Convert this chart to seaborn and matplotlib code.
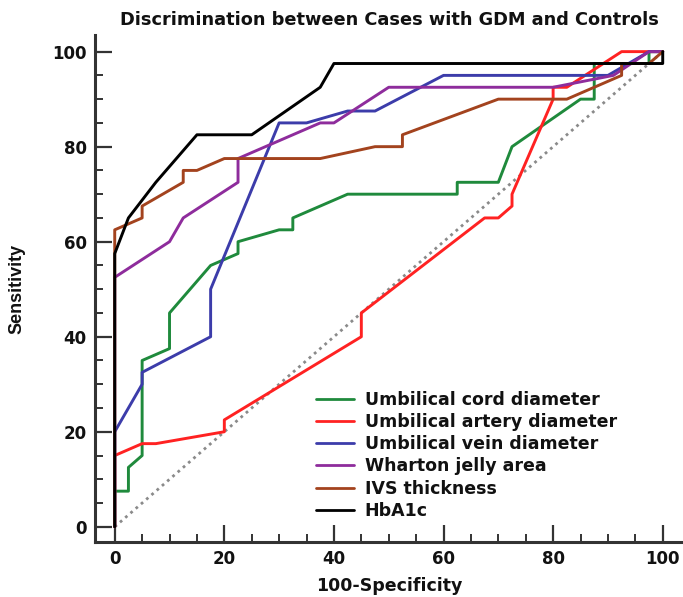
import numpy as np
import pandas as pd
import matplotlib
matplotlib.use("Agg")
import matplotlib.pyplot as plt
import seaborn as sns
from matplotlib.ticker import MultipleLocator
from matplotlib.lines import Line2D

# ---- data ----
cord_x = [0, 0, 2.5, 2.5, 5, 5, 10, 10, 17.5, 22.5, 22.5, 30, 32.5, 32.5, 42.5, 62.5, 62.5, 70, 72.5, 85, 87.5, 87.5, 97.5, 97.5, 100]
cord_y = [0, 7.5, 7.5, 12.5, 15, 35, 37.5, 45, 55, 57.5, 60, 62.5, 62.5, 65, 70, 70, 72.5, 72.5, 80, 90, 90, 97.5, 97.5, 100, 100]

artery_x = [0, 0, 5, 7.5, 20, 20, 45, 45, 67.5, 70, 72.5, 72.5, 80, 80, 82.5, 92.5, 100]
artery_y = [0, 15, 17.5, 17.5, 20, 22.5, 40, 45, 65, 65, 67.5, 70, 90, 92.5, 92.5, 100, 100]

vein_x = [0, 0, 5, 5, 17.5, 17.5, 30, 35, 42.5, 47.5, 60, 90, 97.5, 100]
vein_y = [0, 20, 30, 32.5, 40, 50, 85, 85, 87.5, 87.5, 95, 95, 100, 100]

wharton_x = [0, 0, 10, 12.5, 22.5, 22.5, 37.5, 40, 50, 80, 91, 97.5, 100]
wharton_y = [0, 52.5, 60, 65, 72.5, 77.5, 85, 85, 92.5, 92.5, 95, 100, 100]

ivs_x = [0, 0, 5, 5, 12.5, 12.5, 15, 20, 37.5, 47.5, 52.5, 52.5, 70, 82.5, 92.5, 92.5, 97.5, 100]
ivs_y = [0, 62.5, 65, 67.5, 72.5, 75, 75, 77.5, 77.5, 80, 80, 82.5, 90, 90, 95, 97.5, 97.5, 100]

hba1c_x = [0, 0, 2.5, 7.5, 15, 25, 37.5, 40, 100, 100]
hba1c_y = [0, 57.5, 65, 72.5, 82.5, 82.5, 92.5, 97.5, 97.5, 100]

series_names = ["Umbilical cord diameter", "Umbilical artery diameter",
                "Umbilical vein diameter", "Wharton jelly area",
                "IVS thickness", "HbA1c"]
series_x = [cord_x, artery_x, vein_x, wharton_x, ivs_x, hba1c_x]
series_y = [cord_y, artery_y, vein_y, wharton_y, ivs_y, hba1c_y]
colors = ["#1f8a3c", "#ff2222", "#3c3caa", "#8e2c9c", "#a3431e", "#000000"]

ticks = [0, 20, 40, 60, 80, 100]

rows = []
for name, xs, ys in zip(series_names, series_x, series_y):
    for i, (a, b) in enumerate(zip(xs, ys)):
        rows.append({"spec": a, "sens": b, "marker": name, "order": i})
df = pd.DataFrame(rows)

sns.set_theme(style="ticks")
plt.rcParams["font.family"] = ["DejaVu Sans"]
plt.rcParams["font.weight"] = "bold"

fig = plt.figure(figsize=(6.83, 5.97), dpi=100)
ax = fig.add_axes([95/683, 1-542/597, 1-95/683, (542-35)/597])

# reference diagonal
ax.plot([0, 100], [0, 100], linestyle=(0, (1, 1.5)), color="#8a8a8a", lw=2.0, zorder=1)

sns.lineplot(data=df, x="spec", y="sens", hue="marker", hue_order=series_names,
             palette=dict(zip(series_names, colors)), sort=False, estimator=None,
             units="marker", lw=2.1, ax=ax, legend=False, zorder=3)

ax.set_xlim(-3.6, 103.7)
ax.set_ylim(-3.2, 103.5)
ax.set_xticks(ticks)
ax.set_yticks(ticks)
ax.xaxis.set_minor_locator(MultipleLocator(5))
ax.yaxis.set_minor_locator(MultipleLocator(5))
ax.tick_params(which="major", direction="in", length=12, width=1.6, color="#333333",
               labelsize=12, labelcolor="#111111", pad=6)
ax.tick_params(which="minor", direction="in", length=6, width=1.4, color="#333333")
for lab in ax.get_xticklabels() + ax.get_yticklabels():
    lab.set_fontweight("bold")
for s in ["top", "right"]:
    ax.spines[s].set_visible(False)
for s in ["left", "bottom"]:
    ax.spines[s].set_linewidth(2.2)
    ax.spines[s].set_color("#333333")

ax.set_xlabel("100-Specificity", fontsize=12.5, fontweight="bold", color="#111111", labelpad=6)
ax.set_ylabel("Sensitivity", fontsize=13, fontweight="bold", color="#111111", labelpad=19,
              family=["Liberation Sans", "DejaVu Sans"])
fig.text((95+683)/2/683, 1-20/597, "Discrimination between Cases with GDM and Controls",
         ha="center", va="center", fontsize=12.8, fontweight="bold", color="#111111")

handles = [Line2D([0], [0], color=c, lw=2.0) for c in colors]
leg = ax.legend(handles, series_names, loc="upper left", bbox_to_anchor=(0.376, 0.298),
                frameon=False, fontsize=12.5, handlelength=2.2, handletextpad=0.6,
                labelspacing=0.24, borderpad=0, borderaxespad=0)
for t in leg.get_texts():
    t.set_fontweight("bold")
    t.set_color("#111111")

fig.savefig("out.png", dpi=100)
